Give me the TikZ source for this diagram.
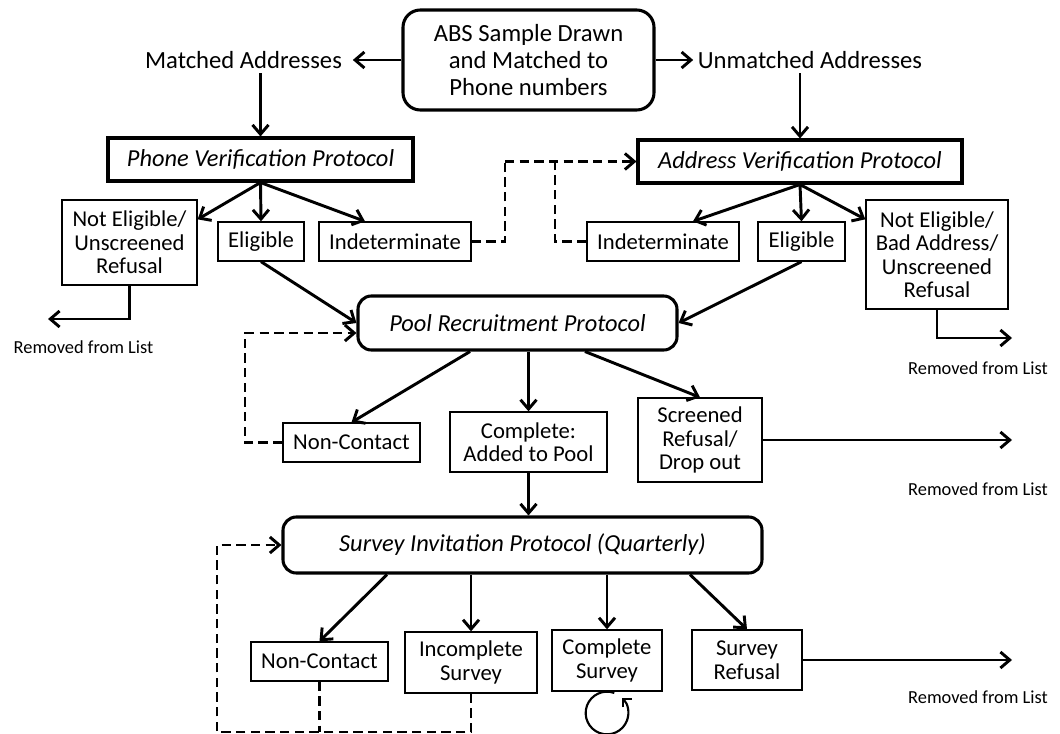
\documentclass[tikz,border=0pt]{standalone}
\usepackage{fontspec}
\setmainfont{Carlito}
\usetikzlibrary{arrows.meta}
\begin{document}
\begin{tikzpicture}[x=0.75pt,y=-0.75pt,
  big/.style={font=\fontsize{18.5}{20.3}\selectfont, align=center},
  box/.style={draw, line width=1pt, font=\fontsize{17}{17.6}\selectfont, align=center, inner sep=0pt},
  proto/.style={draw, line width=2.3pt, font=\fontsize{18.3}{20}\selectfont\itshape, inner sep=0pt},
  rproto/.style={proto, rounded corners=10pt},
  rem/.style={font=\fontsize{13.8}{14}\selectfont},
  arr/.style={line width=2.2pt, -{Straight Barb[length=7pt,width=12pt]}},
  darr/.style={arr, dash pattern=on 7pt off 4pt},
  dline/.style={line width=2.2pt, dash pattern=on 7pt off 4pt},
]
\useasboundingbox (0,0) rectangle (1060,734);

% top
\node[rproto, font=\fontsize{18.5}{20.3}\selectfont, align=center, rounded corners=13pt,
      minimum width=188.25pt, minimum height=75pt] (abs) at (528.5,60)
      {ABS Sample Drawn\\and Matched to\\Phone numbers};
\node[big, inner xsep=8pt] (matched) at (243.5,60) {Matched Addresses};
\node[big] (unmatched) at (810,60) {Unmatched Addresses};

% protocols
\node[proto, minimum width=228.75pt, minimum height=32.25pt] (pvp) at (260.5,159.5) {Phone Verification Protocol};
\node[proto, minimum width=243pt, minimum height=32.25pt] (avp) at (800,161.5) {Address Verification Protocol};

% verification outcomes
\node[box, minimum width=101.25pt, minimum height=63.75pt] (ne1) at (129.5,242.5) {Not Eligible/\\Unscreened\\Refusal};
\node[box, minimum width=64.5pt, minimum height=29.25pt] (el1) at (261,241.5) {\raisebox{-1pt}{Eligible}};
\node[box, minimum width=114pt, minimum height=29.25pt] (ind1) at (395,241.5) {Indeterminate};
\node[box, minimum width=114pt, minimum height=29.25pt] (ind2) at (663,241.5) {Indeterminate};
\node[box, minimum width=65.25pt, minimum height=29.25pt] (el2) at (801.5,241.5) {\raisebox{-1pt}{Eligible}};
\node[box, minimum width=106.5pt, minimum height=81.75pt] (ne2) at (937,254.5) {Not Eligible/\\Bad Address/\\Unscreened\\Refusal};

% pool
\node[rproto, minimum width=239.25pt, minimum height=40.5pt] (pool) at (517.5,323) {Pool Recruitment Protocol};
\node[box, minimum width=102.75pt, minimum height=29.25pt] (nc1) at (351.5,442.5) {Non-Contact};
\node[box, minimum width=117.75pt, minimum height=45pt] (comp1) at (528.5,442) {Complete:\\Added to Pool};
\node[box, minimum width=93pt, minimum height=63pt] (sr) at (700,440) {Screened\\Refusal/\\Drop out};

% survey
\node[rproto, minimum width=359.25pt, minimum height=42pt] (sip) at (522.5,545) {Survey Invitation Protocol (Quarterly)};
\node[box, minimum width=102.75pt, minimum height=29.25pt] (nc2) at (319.5,661.5) {Non-Contact};
\node[box, minimum width=99pt, minimum height=45.75pt] (inc) at (471,662.5) {Incomplete\\Survey};
\node[box, minimum width=82.5pt, minimum height=45.75pt] (cs) at (607,660.5) {Complete\\Survey};
\node[box, minimum width=82.5pt, minimum height=45pt] (sref) at (747,660) {Survey\\Refusal};

% removed labels
\node[rem] (rm1) at (83.5,347) {Removed from List};
\node[rem] (rm2) at (978,368) {Removed from List};
\node[rem] (rm3) at (978,489) {Removed from List};
\node[rem] (rm4) at (978,697) {Removed from List};
\coordinate (rm1a) at (48,319);
\coordinate (rm2a) at (1012,338);
\coordinate (rm3a) at (1012,440);
\coordinate (rm4a) at (1012,660);

% top arrows
\draw[arr] (abs.west) -- (matched.east);
\draw[arr] (abs.east) -- (unmatched.west);
\draw[arr] (matched.south -| pvp.north) -- (pvp.north);
\draw[arr] (unmatched.south -| avp.north) -- (avp.north);

% phone verification branches
\draw[arr] (pvp.south) -- ([yshift=-15pt]ne1.north east);
\draw[arr] (pvp.south) -- (el1.north);
\draw[arr] (pvp.south) -- ([xshift=-22.5pt]ind1.north);

% address verification branches
\draw[arr] (avp.south) -- ([xshift=22.5pt]ind2.north);
\draw[arr] (avp.south) -- (el2.north);
\draw[arr] (avp.south) -- ([yshift=-15pt]ne2.north west);

% indeterminate loops
\coordinate (dj1) at (505,161.5);
\coordinate (dj2) at (555,161.5);
\draw[dline] (ind1.east) -| (dj1);
\draw[dline] (ind2.west) -| (dj2);
\draw[darr] (dj1) -- (avp.west);

% removals
\draw[arr] (ne1.south) |- (rm1a);
\draw[arr] (ne2.south) |- (rm2a);
\draw[arr] (sr.east) -- (rm3a);
\draw[arr] (sref.east) -- (rm4a);

% to pool
\draw[arr] (el1.south) -- (pool.west);
\draw[arr] (el2.south) -- (pool.east);
\coordinate (pc) at (245,333);
\draw[darr] (nc1.west) -| (pc) -- ([yshift=-7.5pt]pool.west);

% pool branches
\draw[arr] ([xshift=-35.6pt]pool.south) -- (nc1.north);
\draw[arr] (pool.south -| comp1.north) -- (comp1.north);
\draw[arr] ([xshift=50.6pt]pool.south) -- (sr.north);
\draw[arr] (comp1.south) -- (comp1.south |- sip.north);

% survey branches
\draw[arr] ([xshift=-101.6pt]sip.south) -- (nc2.north);
\draw[arr] (sip.south -| inc.north) -- (inc.north);
\draw[arr] (sip.south -| cs.north) -- (cs.north);
\draw[arr] ([xshift=125.6pt]sip.south) -- (sref.north);

% survey loops
\coordinate (lb) at (217,732);
\draw[darr] (inc.south) |- (lb) |- (sip.west);
\draw[dline] (nc2.south) -- (nc2.south |- lb);

% complete survey self loop
\coordinate (lc) at ([yshift=-16pt]cs.south);
\draw[line width=1.6pt, -{Straight Barb[length=4.5pt,width=9pt]}] (lc) ++(70:16pt) arc[start angle=70, end angle=405, radius=16pt];
\end{tikzpicture}
\end{document}
